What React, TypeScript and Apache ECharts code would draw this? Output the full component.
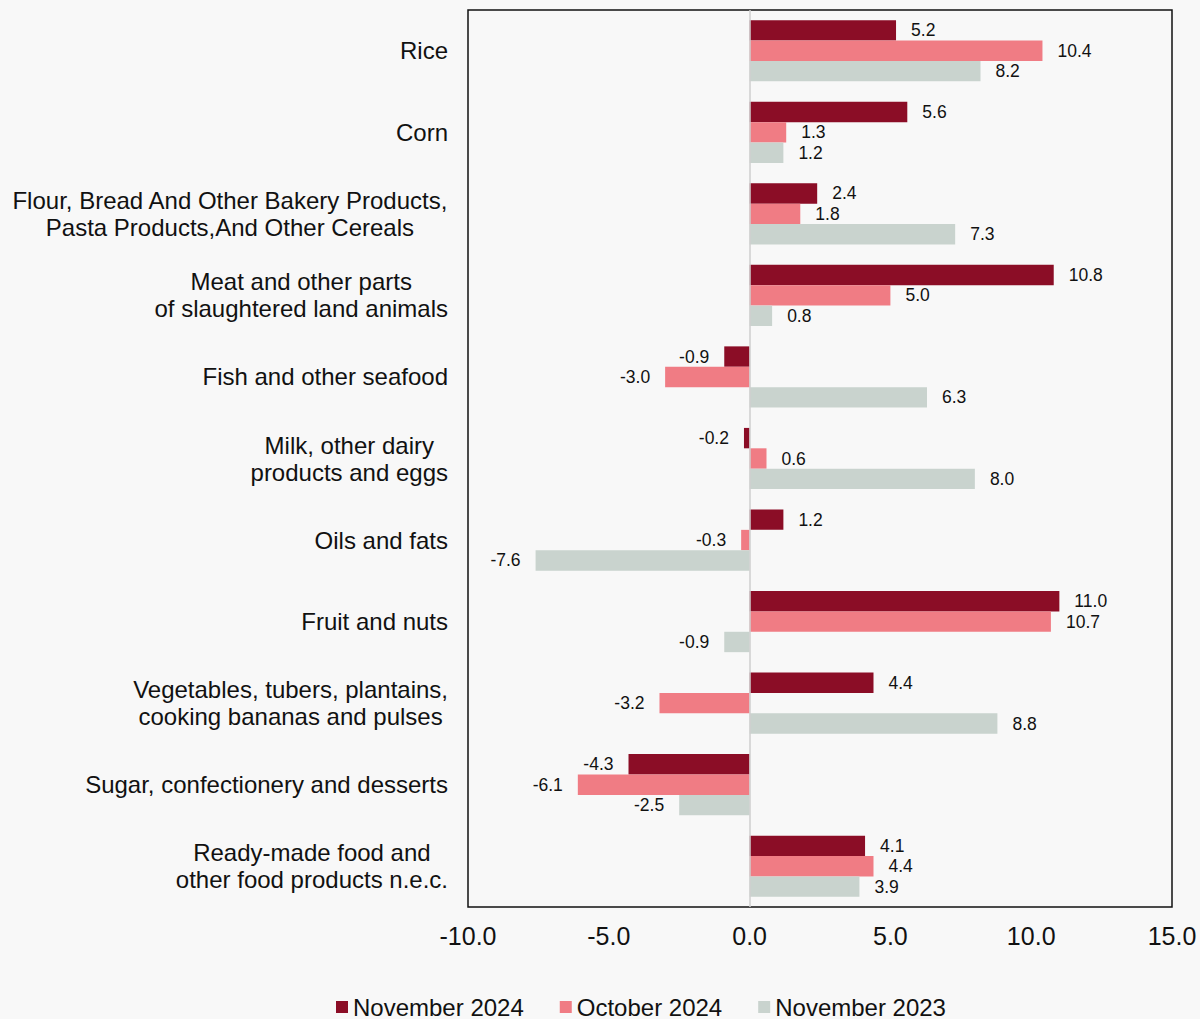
import React, { useEffect, useRef } from "react";
import * as echarts from "echarts";

const categories = [
  "Rice",
  "Corn",
  "Flour, Bread And Other Bakery Products,\nPasta Products,And Other Cereals",
  "Meat and other parts\nof slaughtered land animals",
  "Fish and other seafood",
  "Milk, other dairy\nproducts and eggs",
  "Oils and fats",
  "Fruit and nuts",
  "Vegetables, tubers, plantains,\ncooking bananas and pulses",
  "Sugar, confectionery and desserts",
  "Ready-made food and\nother food products n.e.c.",
];

const nov2024 = [5.2, 5.6, 2.4, 10.8, -0.9, -0.2, 1.2, 11.0, 4.4, -4.3, 4.1];
const oct2024 = [10.4, 1.3, 1.8, 5.0, -3.0, 0.6, -0.3, 10.7, -3.2, -6.1, 4.4];
const nov2023 = [8.2, 1.2, 7.3, 0.8, 6.3, 8.0, -7.6, -0.9, 8.8, -2.5, 3.9];

const seriesNames = ["November 2024", "October 2024", "November 2023"];
const seriesColors = ["#8b0d26", "#f07c84", "#c9d3ce"];
const xTicks = { min: -10, max: 15, interval: 5 };

const FONT = "'Liberation Sans', Arial, sans-serif";

export default function App() {
  const ref = useRef<HTMLDivElement>(null);

  useEffect(() => {
    if (!ref.current) return;
    const chart = echarts.init(ref.current, undefined, { renderer: "svg" });
    const allData = [nov2024, oct2024, nov2023];

    const series = allData.map((arr, i) => ({
      name: seriesNames[i],
      type: "bar",
      barGap: "0%",
      barCategoryGap: "25%",
      itemStyle: { color: seriesColors[i] },
      data: arr.map((v) => ({
        value: v,
        label: { position: v < 0 ? "left" : "right" },
      })),
      label: {
        show: true,
        distance: 15,
        fontSize: 17.5,
        fontFamily: FONT,
        color: "#111",
        formatter: (p: any) => Number(p.value).toFixed(1),
      },
      markLine:
        i === 0
          ? {
              silent: true,
              symbol: ["none", "none"],
              label: { show: false },
              lineStyle: { color: "#cfcfcf", width: 1.5, type: "solid" },
              data: [{ xAxis: 0 }],
            }
          : undefined,
    }));

    chart.setOption({
      animation: false,
      backgroundColor: "#f8f8f8",
      textStyle: { fontFamily: FONT },
      grid: {
        left: 468,
        right: 28,
        top: 10,
        bottom: 112,
        show: true,
        borderColor: "#111",
        borderWidth: 1.5,
        backgroundColor: "transparent",
      },
      legend: {
        bottom: 0,
        left: 336,
        padding: 0,
        icon: "rect",
        itemWidth: 12,
        itemHeight: 12,
        itemGap: 36,
        textStyle: { fontSize: 24, lineHeight: 24, color: "#111", fontFamily: FONT },
        data: seriesNames,
      },
      xAxis: {
        type: "value",
        min: xTicks.min,
        max: xTicks.max,
        interval: xTicks.interval,
        axisLine: { show: false },
        axisTick: { show: false },
        splitLine: { show: false },
        axisLabel: {
          fontSize: 25,
          color: "#111",
          fontFamily: FONT,
          margin: 16,
          formatter: (v: number) => v.toFixed(1),
        },
      },
      yAxis: {
        type: "category",
        inverse: true,
        data: categories,
        axisLine: { show: false },
        axisTick: { show: false },
        splitLine: { show: false },
        axisLabel: {
          margin: 20,
          fontSize: 24,
          lineHeight: 27,
          color: "#111",
          fontFamily: FONT,
          formatter: (v: string) =>
            v
              .split("\n")
              .map((l) => `{c|${l}}`)
              .join("\n"),
          rich: {
            c: {
              align: "center",
              fontSize: 24,
              lineHeight: 27,
              color: "#111",
              fontFamily: FONT,
            },
          },
        },
      },
      series,
    });

    return () => chart.dispose();
  }, []);

  return (
    <div
      ref={ref}
      style={{ position: "absolute", left: 0, top: 0, width: 1200, height: 1019 }}
    />
  );
}
